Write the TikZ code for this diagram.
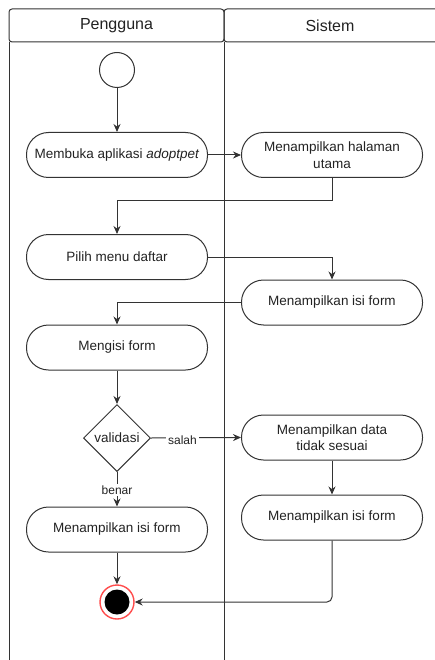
\documentclass[tikz,border=0pt]{standalone}
\usepackage{fontspec}
\setmainfont{Liberation Sans}
\usetikzlibrary{shapes.geometric,arrows.meta,calc}
\definecolor{ln}{HTML}{333333}
\definecolor{tx}{HTML}{222222}
\definecolor{endred}{HTML}{FF4D4D}
\begin{document}
\begin{tikzpicture}[x=1pt,y=-1pt,
  act/.style={draw=ln, line width=1pt, rounded corners=22pt, minimum width=181pt, minimum height=45pt,
    align=center, text=tx, font=\fontsize{13.5}{16.5}\selectfont, inner sep=2pt},
  dec/.style={draw=ln, line width=1pt, diamond, minimum width=67pt, minimum height=67pt, inner sep=0pt,
    text=tx, font=\fontsize{13.5}{16.5}\selectfont},
  flow/.style={draw=ln, line width=1pt, -{Stealth[length=8pt,width=7pt]}},
  lbl/.style={fill=white, text=tx, font=\fontsize{12}{14}\selectfont, inner sep=2pt},
  lane/.style={draw=ln, line width=1pt},
  hdr/.style={text=tx, font=\fontsize{16}{19}\selectfont}
]
\useasboundingbox (0,0) rectangle (435,660);
% lanes
\draw[lane, rounded corners=3pt] (9,9) rectangle (224,42);
\draw[lane, rounded corners=3pt] (224,9) rectangle (450,42);
\draw[lane] (9,42) -- (9,665);
\draw[lane] (224,42) -- (224,665);
\node[hdr] (h1) at (116.5,25.5) {Pengguna};
\node[hdr] (h2) at (330,25.5) {Sistem};
% nodes
\node[draw=ln, line width=1pt, circle, minimum size=35pt, inner sep=0pt] (start) at (117,70) {};
\node[act] (membuka) at (117,155) {Membuka aplikasi \textit{adoptpet}};
\node[act] (halaman) at (332,155) {Menampilkan halaman\\utama};
\node[act] (pilih) at (117,257) {Pilih menu daftar};
\node[act] (isi1) at (332,302.5) {Menampilkan isi form};
\node[act] (mengisi) at (117,347.5) {Mengisi form};
\node[dec] (valid) at (117,438) {validasi};
\node[act] (data) at (332,437.5) {Menampilkan data\\tidak sesuai};
\node[act] (isi2) at (332,517.5) {Menampilkan isi form};
\node[act] (isi3) at (117,529.5) {Menampilkan isi form};
\node[draw=endred, line width=1.4pt, circle, fill=white, minimum size=34pt, inner sep=0pt] (end) at (117,602) {};
\node[circle, fill=black, minimum size=25pt, inner sep=0pt] (endin) at (117,602) {};
% connectors
\draw[flow] (start) -- (membuka);
\draw[flow] (membuka) -- (halaman);
\draw[flow] (halaman.south) -- ++(0,23) -| (pilih.north);
\draw[flow] (pilih.east) -| (isi1.north);
\draw[flow] (isi1.west) -| (mengisi.north);
\draw[flow] (mengisi) -- (valid);
\draw[flow] (valid.east) -- node[lbl, pos=0.35, yshift=-2pt] {salah} (data.west);
\draw[flow] (valid.south) -- node[lbl, pos=0.52] {benar} (isi3.north);
\draw[flow] (data) -- (isi2);
\draw[flow] (isi3) -- (end);
\draw[flow, rounded corners=5pt] (isi2.south) |- (end.east);
\end{tikzpicture}
\end{document}
